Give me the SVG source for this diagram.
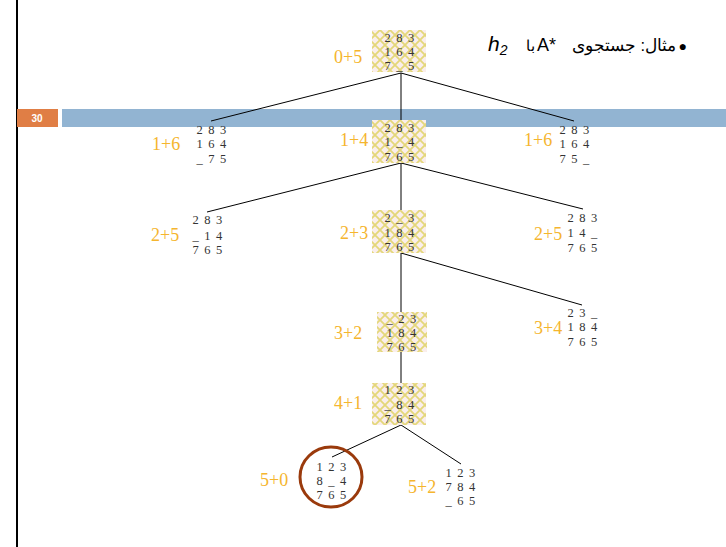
<svg xmlns="http://www.w3.org/2000/svg" width="726" height="547" viewBox="0 0 726 547">
<defs>
<pattern id="lat" width="10" height="10" patternUnits="userSpaceOnUse">
<rect width="10" height="10" fill="#FAEEEC"/>
<path d="M0 0L10 10M10 0L0 10" stroke="#E4D77A" stroke-width="1.8"/>
</pattern>
<style>
.n{font-family:"Liberation Serif",serif;font-size:12.5px;fill:#333;letter-spacing:1.2px;text-anchor:middle}
.l{font-family:"Liberation Serif",serif;font-size:18px;fill:#F5B52E}
.e{stroke:#000;stroke-width:1;fill:none}
.box{fill:url(#lat)}
</style>
</defs>
<rect width="726" height="547" fill="#fff"/>
<line x1="17" y1="0" x2="17" y2="547" stroke="#000" stroke-width="2"/>
<rect x="17" y="109" width="41" height="18" fill="#E07E45"/>
<text x="37" y="122" font-family="Liberation Sans,sans-serif" font-size="10" font-weight="bold" fill="#fff" text-anchor="middle">30</text>
<rect x="62" y="109" width="664" height="18" fill="#92B4D2"/>
<g id="title" font-family="Liberation Sans,Noto Sans,sans-serif" fill="#000">
<text x="687" y="51" font-size="14" text-anchor="end">●</text>
<text x="676" y="51" font-size="16.5" text-anchor="end">مثال: جستجوی</text>
<text x="537" y="51" font-size="18">A*</text>
<text x="535" y="51" font-size="15" text-anchor="end">با</text>
<text x="488" y="51" font-size="21" font-style="italic">h<tspan font-size="14" dy="4">2</tspan></text>
</g>
<g id="edges">
<path class="e" d="M401 73L211 121M401 73L401 120M401 73L574 121"/>
<path class="e" d="M401 163L207 212M401 163L401 210M401 163L583 209"/>
<path class="e" d="M401 253L401 312M401 253L582 305"/>
<path class="e" d="M401 352L401 383"/>
<path class="e" d="M401 425L332 457M401 425L461 464"/>
</g>
<g id="n0"><rect class="box" x="372" y="30" width="54" height="42"/><text class="l" x="334" y="63">0+5</text>
<text class="n" x="400" y="42">2 8 3</text><text class="n" x="400" y="56">1 6 4</text><text class="n" x="400" y="70">7 _ 5</text></g>
<g id="n1a"><text class="l" x="152" y="150">1+6</text>
<text class="n" x="212" y="134">2 8 3</text><text class="n" x="212" y="148">1 6 4</text><text class="n" x="212" y="163">_ 7 5</text></g>
<g id="n1b"><rect class="box" x="372" y="120" width="54" height="43"/><text class="l" x="340" y="146">1+4</text>
<text class="n" x="400" y="132">2 8 3</text><text class="n" x="400" y="146">1 _ 4</text><text class="n" x="400" y="161">7 6 5</text></g>
<g id="n1c"><text class="l" x="524" y="146">1+6</text>
<text class="n" x="575" y="134">2 8 3</text><text class="n" x="575" y="148">1 6 4</text><text class="n" x="575" y="163">7 5 _</text></g>
<g id="n2a"><text class="l" x="151" y="241">2+5</text>
<text class="n" x="208" y="224">2 8 3</text><text class="n" x="208" y="240">_ 1 4</text><text class="n" x="208" y="254">7 6 5</text></g>
<g id="n2b"><rect class="box" x="372" y="210" width="54" height="43"/><text class="l" x="340" y="239">2+3</text>
<text class="n" x="400" y="222">2 _ 3</text><text class="n" x="400" y="237">1 8 4</text><text class="n" x="400" y="251">7 6 5</text></g>
<g id="n2c"><text class="l" x="534" y="240">2+5</text>
<text class="n" x="583" y="222">2 8 3</text><text class="n" x="583" y="237">1 4 _</text><text class="n" x="583" y="252">7 6 5</text></g>
<g id="n3b"><rect class="box" x="377" y="312" width="50" height="40"/><text class="l" x="334" y="339">3+2</text>
<text class="n" x="402" y="323">_ 2 3</text><text class="n" x="402" y="337">1 8 4</text><text class="n" x="402" y="351">7 6 5</text></g>
<g id="n3c"><text class="l" x="534" y="334">3+4</text>
<text class="n" x="583" y="317">2 3 _</text><text class="n" x="583" y="331">1 8 4</text><text class="n" x="583" y="346">7 6 5</text></g>
<g id="n4"><rect class="box" x="372" y="383" width="54" height="42"/><text class="l" x="334" y="409">4+1</text>
<text class="n" x="400" y="394">1 2 3</text><text class="n" x="400" y="409">_ 8 4</text><text class="n" x="400" y="423">7 6 5</text></g>
<g id="n5a"><ellipse cx="331" cy="477" rx="31" ry="30" fill="none" stroke="#9A3A0C" stroke-width="3"/><text class="l" x="260" y="486">5+0</text>
<text class="n" x="332" y="471">1 2 3</text><text class="n" x="332" y="485">8 _ 4</text><text class="n" x="332" y="499">7 6 5</text></g>
<g id="n5b"><text class="l" x="408" y="493">5+2</text>
<text class="n" x="461" y="477">1 2 3</text><text class="n" x="461" y="491">7 8 4</text><text class="n" x="461" y="505">_ 6 5</text></g>
</svg>
